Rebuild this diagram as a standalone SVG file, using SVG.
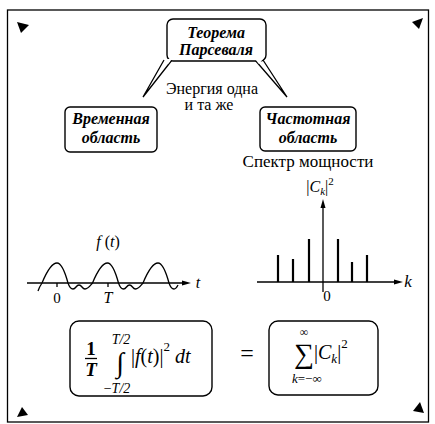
<svg xmlns="http://www.w3.org/2000/svg" width="435" height="424" viewBox="0 0 435 424">
<defs>
<style>
.ln{stroke:#000;stroke-width:1.3;fill:none}
.box{fill:#fff;stroke:#000;stroke-width:1.4}
text{font-family:'Liberation Serif','Times New Roman',serif;fill:#000}
.nt{font-style:italic;font-weight:bold;text-anchor:middle}
.it{font-style:italic}
.mid{text-anchor:middle}
.bar{stroke:#000;stroke-width:2.2}
.tri{fill:#000}
</style>
</defs>
<rect x="0" y="0" width="435" height="424" fill="#fff"/>
<rect x="7.5" y="10" width="421" height="412" class="ln" stroke-width="1.5"/>
<polygon class="tri" points="17,22 29,25 21,33"/>
<polygon class="tri" points="423,18 412,22 419,29"/>
<polygon class="tri" points="22,407 17,417 28,415"/>
<polygon class="tri" points="420,402 413,411 424,413"/>

<g id="connectors">
<polyline points="164,60 143,97 172,60" class="ln" fill="#fff" stroke-width="1.2"/>
<polyline points="255,60 287,97 263,60" class="ln" fill="#fff" stroke-width="1.2"/>
</g>

<g id="node-parseval">
<rect x="167" y="19" width="99" height="42" rx="6" class="box"/>
<polygon points="165,59 172,59 168,64" fill="#fff"/>
<polygon points="255,59 263,59 259,64" fill="#fff"/>
<text x="216" y="38" class="nt" font-size="16">Теорема</text>
<text x="216" y="55" class="nt" font-size="16">Парсеваля</text>
</g>

<g id="label-energy">
<text x="212" y="94" class="mid" font-size="16">Энергия одна</text>
<text x="209" y="110" class="mid" font-size="16">и та же</text>
</g>

<g id="node-time">
<rect x="65" y="107" width="92" height="45" rx="5" class="box"/>
<text x="111" y="124" class="nt" font-size="16">Временная</text>
<text x="111" y="143" class="nt" font-size="16">область</text>
</g>

<g id="node-freq">
<rect x="260" y="107" width="96" height="44" rx="5" class="box"/>
<text x="308" y="124" class="nt" font-size="16">Частотная</text>
<text x="308" y="143" class="nt" font-size="16">область</text>
</g>

<g id="time-signal">
<text x="108" y="247" class="it mid" font-size="16">f<tspan font-style="normal"> (</tspan>t<tspan font-style="normal">)</tspan></text>
<line x1="27" y1="283" x2="185" y2="283" class="ln" stroke-width="1"/>
<polygon class="tri" points="182,280.5 191,283 182,285.5"/>
<line x1="57" y1="283" x2="57" y2="287" class="ln" stroke-width="1"/>
<line x1="108" y1="283" x2="108" y2="287" class="ln" stroke-width="1"/>
<path class="ln" stroke-width="1.6" d="M38,291 C39,288 40,286 42,283
C47,271 52,263 57,263 C61,263 65,272 68,283 C69,286 70,289 73,289 C76,289 76,285 79,285 C82,285 82,289 85,289 C88,289 90,286 92.5,283
C97.5,271 102.5,263 107.5,263 C111.5,263 115.5,272 118.5,283 C119.5,286 120.5,289 123.5,289 C126.5,289 126.5,285 129.5,285 C132.5,285 132.5,289 135.5,289 C138.5,289 140.5,286 143,283
C148,271 153,263 158,263 C162,263 166,272 169,283 C170,286 171,289 174,289 C176,289 177,287 178,285"/>
<text x="57" y="303" class="mid" font-size="15">0</text>
<text x="108" y="303" class="it mid" font-size="16">T</text>
<text x="198" y="288" class="it mid" font-size="16">t</text>
</g>

<g id="spectrum">
<text x="308" y="167" class="mid" font-size="17">Спектр мощности</text>
<text x="320" y="192" class="mid" font-size="16">|<tspan font-style="italic">C</tspan><tspan font-style="italic" font-size="11" dy="3">k</tspan><tspan dy="-3">|</tspan><tspan font-size="11" dy="-7">2</tspan></text>
<line x1="257" y1="282" x2="397" y2="282" class="ln" stroke-width="1"/>
<polygon class="tri" points="394,279.5 403,282 394,284.5"/>
<line x1="323" y1="292" x2="323" y2="206" class="ln" stroke-width="1.6"/>
<polygon class="tri" points="320.5,208 323,199 325.5,208"/>
<line x1="278" y1="282" x2="278" y2="255" class="bar"/>
<line x1="293" y1="282" x2="293" y2="259" class="bar"/>
<line x1="309" y1="282" x2="309" y2="239" class="bar"/>
<line x1="338" y1="282" x2="338" y2="239" class="bar"/>
<line x1="352" y1="282" x2="352" y2="262" class="bar"/>
<line x1="367" y1="282" x2="367" y2="255" class="bar"/>
<text x="327" y="301" class="mid" font-size="15">0</text>
<text x="408" y="287" class="it mid" font-size="17">k</text>
</g>

<g id="formula-time">
<rect x="70" y="321" width="142" height="75" rx="9" class="box"/>
<text x="91" y="355" class="mid" font-size="19" font-weight="bold">1</text>
<line x1="85" y1="358.5" x2="97" y2="358.5" class="ln" stroke-width="1.2"/>
<text x="91" y="376" class="it mid" font-size="19" font-weight="bold">T</text>
<text x="121" y="344" class="it mid" font-size="14">T/2</text>
<text x="120" y="372" class="mid" font-size="28">∫</text>
<text x="117" y="393" class="it mid" font-size="14"><tspan font-style="normal">−</tspan>T/2</text>
<text x="131" y="363" class="it" font-size="20"><tspan font-style="normal">|</tspan>f<tspan font-style="normal">(</tspan>t<tspan font-style="normal">)|</tspan><tspan font-style="normal" font-size="13" dy="-12">2</tspan><tspan dx="5" dy="12">dt</tspan></text>
</g>

<text x="247" y="361" class="mid" font-size="24">=</text>

<g id="formula-freq">
<rect x="269" y="321" width="109" height="74" rx="9" class="box"/>
<text x="304" y="336" class="mid" font-size="12">∞</text>
<text x="304" y="363" class="mid" font-size="28">∑</text>
<text x="292" y="383" class="it" font-size="13">k<tspan font-style="normal">=−∞</tspan></text>
<text x="314" y="359" font-size="20">|<tspan font-style="italic">C</tspan><tspan font-style="italic" font-size="13" dy="4">k</tspan><tspan dy="-4">|</tspan><tspan font-size="13" dy="-11">2</tspan></text>
</g>
</svg>
